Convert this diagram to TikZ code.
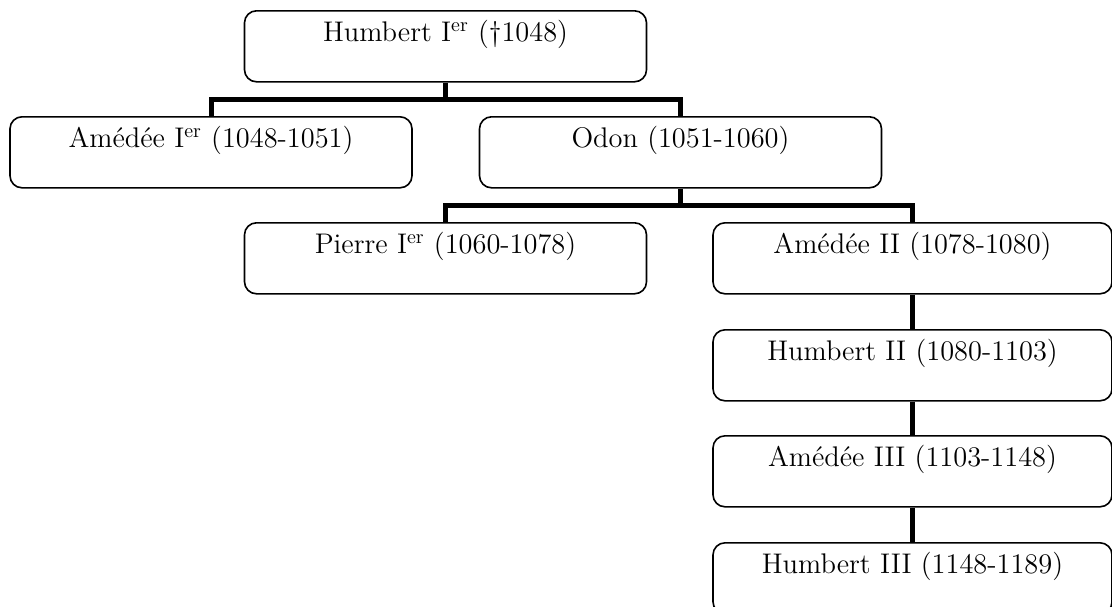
\documentclass[tikz,border=0pt]{standalone}
\usepackage{fontspec}
\begin{document}
\begin{tikzpicture}[x=0.5pt,y=-0.5pt,
    sovereign/.style={draw,rounded corners=6pt,line width=0.8pt,fill=white,
      minimum width=201pt,inner xsep=2pt,inner ysep=3pt,
      text height=12.5pt,text depth=17pt,anchor=north,
      font=\fontsize{14.2}{17}\selectfont},
    link/.style={line width=2.5pt}]
  \useasboundingbox (0,0) rectangle (1112,606);
  % the counts, one row after the other
  \node[sovereign] (humbert1) at (445.5,10) {Humbert I\textsuperscript{er} (†1048)};
  \node[sovereign] (amedee1) at (211,116) {Amédée I\textsuperscript{er} (1048-1051)};
  \node[sovereign] (odon) at (680.5,116) {Odon (1051-1060)};
  \node[sovereign] (pierre1) at (445.5,222) {Pierre I\textsuperscript{er} (1060-1078)};
  \node[sovereign,minimum width=199.5pt] (amedee2) at (912.5,222) {Amédée II (1078-1080)};
  \node[sovereign,minimum width=199.5pt] (humbert2) at (912.5,329) {Humbert II (1080-1103)};
  \node[sovereign,minimum width=199.5pt] (amedee3) at (912.5,435) {Amédée III (1103-1148)};
  \node[sovereign,minimum width=199.5pt] (humbert3) at (912.5,542) {Humbert III (1148-1189)};
  % forks
  \draw[link] (humbert1.south) -- ++(0,17) coordinate (fork1);
  \draw[link] (amedee1.north) |- (fork1) -| (odon.north);
  \draw[link] (odon.south) -- ++(0,17) coordinate (fork2);
  \draw[link] (pierre1.north) |- (fork2) -| (amedee2.north);
  % straight line of descent
  \draw[link] (amedee2.south) -- (humbert2.north);
  \draw[link] (humbert2.south) -- (amedee3.north);
  \draw[link] (amedee3.south) -- (humbert3.north);
\end{tikzpicture}
\end{document}
